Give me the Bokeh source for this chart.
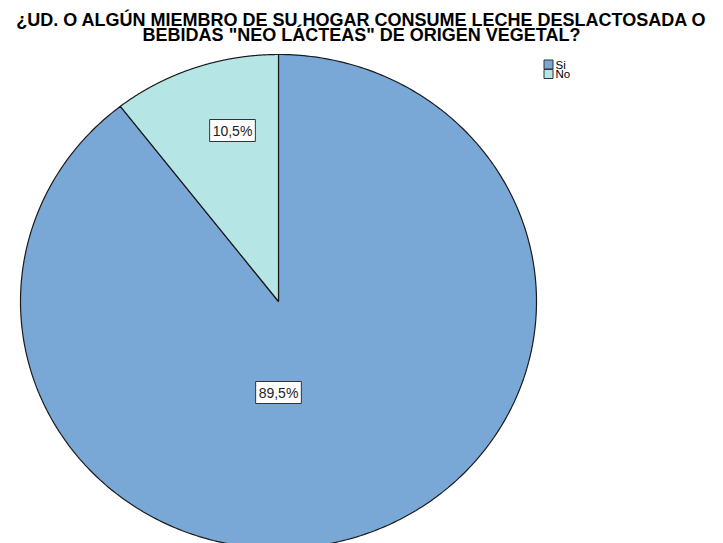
import numpy as np
from bokeh.plotting import figure
from bokeh.models import Range1d
from bokeh.core.properties import value
from bokeh.embed import file_html
from bokeh.resources import INLINE

# ---- data ----
categories = ["Si", "No"]
percents = [89.5, 10.5]
labels = ["89,5%", "10,5%"]
colors = ["#7aa8d6", "#b5e5e5"]
title_lines = ["¿UD. O ALGÚN MIEMBRO DE SU HOGAR CONSUME LECHE DESLACTOSADA O",
               "BEBIDAS \"NEO LÁCTEAS\" DE ORIGEN VEGETAL?"]

# ---- layout ----
W, H = 723, 543
CX, CY = 278, 301
RX, RY = 258, 247
LABEL_POS = [(278, 392), (232, 130)]

p = figure(width=W, height=H, output_backend="svg", toolbar_location=None,
           x_range=Range1d(0, W), y_range=Range1d(H, 0),
           min_border=0)
p.axis.visible = False
p.grid.visible = False
p.outline_line_color = None
p.background_fill_color = "white"

# pie slices (clockwise from 12 o'clock), elliptical
fr = np.array(percents) / sum(percents)
ends = np.cumsum(fr) * 2 * np.pi
starts = ends - fr * 2 * np.pi
xs, ys = [], []
for s, e in zip(starts, ends):
    t = np.linspace(s, e, 400)
    xs.append(np.concatenate([[CX], CX + RX * np.sin(t), [CX]]))
    ys.append(np.concatenate([[CY], CY - RY * np.cos(t), [CY]]))
p.patches(xs, ys, fill_color=colors, line_color="#1a1a1a", line_width=1.2)

# labels
p.text(x=[q[0] for q in LABEL_POS], y=[q[1] for q in LABEL_POS], text=labels,
       text_align="center", text_baseline="middle", text_font=value("Liberation Sans"),
       text_font_size="14px", text_color="#222222",
       background_fill_color="white", border_line_color="#333333", border_line_width=1,
       padding=3)

# title
p.text(x=[361, 361], y=[19, 34.5], text=title_lines, text_align="center",
       text_baseline="middle", text_font=value("Liberation Sans"),
       text_font_size="18px", text_font_style="bold", text_color="black")

# legend
lx, ly0, step = 548, 64, 9.5
ly = [ly0 + i * step for i in range(len(categories))]
p.rect(x=[lx] * len(categories), y=ly, width=9, height=9, fill_color=colors,
       line_color="#333333", line_width=1)
p.text(x=[lx + 7] * len(categories), y=ly, text=categories, text_align="left",
       text_baseline="middle", text_font=value("Liberation Sans"),
       text_font_size="11.5px", text_color="black")

open("out.html", "w").write(file_html(p, INLINE))
